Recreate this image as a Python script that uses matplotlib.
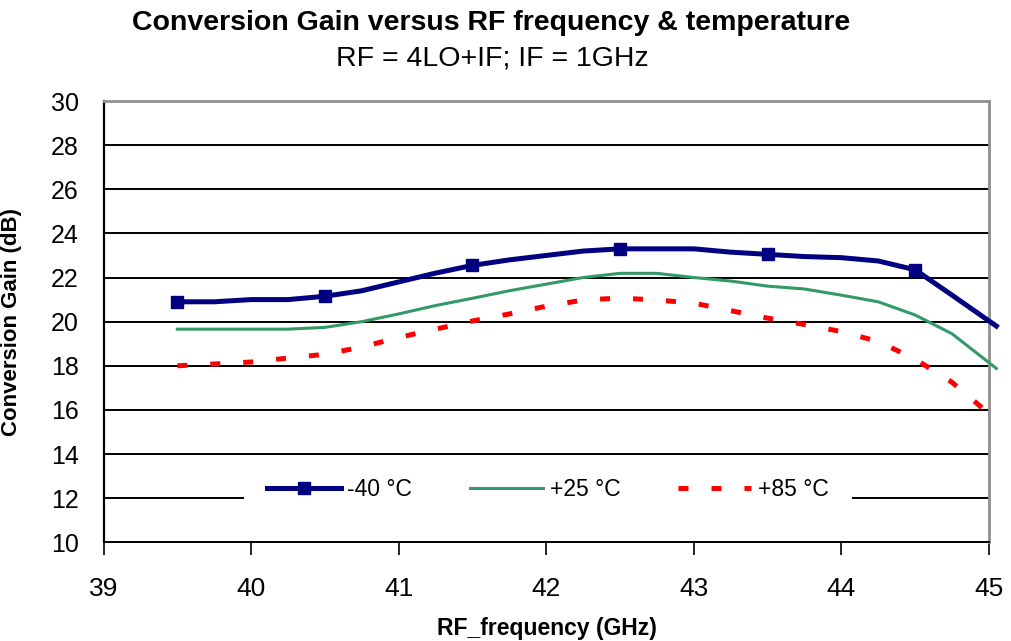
import numpy as np
import matplotlib.pyplot as plt

plt.rcParams['font.family'] = ['Liberation Sans', 'DejaVu Sans']

# RF frequency points (GHz); the last sample sits just past the axis end
freq = [39.5, 39.75, 40.0, 40.25, 40.5, 40.75, 41.0, 41.25, 41.5, 41.75,
        42.0, 42.25, 42.5, 42.75, 43.0, 43.25, 43.5, 43.75, 44.0, 44.25,
        44.5, 44.75, 45.05]

gain_m40 = [20.9, 20.9, 21.0, 21.0, 21.15, 21.4, 21.8, 22.2, 22.55, 22.8,
            23.0, 23.2, 23.3, 23.3, 23.3, 23.15, 23.05, 22.95, 22.9, 22.75,
            22.35, 21.2, 19.8]
gain_p25 = [19.66, 19.66, 19.66, 19.66, 19.74, 20.0, 20.35, 20.73, 21.06, 21.4,
            21.7, 22.0, 22.19, 22.19, 22.0, 21.84, 21.61, 21.48, 21.2, 20.9,
            20.3, 19.45, 17.88]
gain_p85 = [18.0, 18.08, 18.17, 18.35, 18.52, 18.85, 19.28, 19.66, 20.03, 20.35,
            20.7, 20.98, 21.07, 20.98, 20.84, 20.5, 20.16, 19.87, 19.55, 19.1,
            18.3, 17.25, 15.55]

# markers on the -40 °C curve only at the half-GHz points
marker_freq = [39.5, 40.5, 41.5, 42.5, 43.5, 44.5]

x_ticks = [39, 40, 41, 42, 43, 44, 45]
y_ticks = [10, 12, 14, 16, 18, 20, 22, 24, 26, 28, 30]

fig = plt.figure(figsize=(10.11, 6.41), dpi=100)
ax = fig.add_axes([0.1024, 0.154, 0.8758, 0.6884])

marks = [freq.index(f) for f in marker_freq]
ax.plot(freq, gain_m40, color="#000080", lw=3.6, marker="s", ms=8.5,
        markevery=marks, label="-40 °C", clip_on=False, zorder=4)
ax.plot(freq, gain_p25, color="#339966", lw=2.2, label="+25 °C",
        clip_on=False, zorder=3)
ax.plot(freq, gain_p85, color="#FF0000", lw=3.6, ls=(0, (2.0, 4.6)),
        label="+85 °C", clip_on=False, zorder=3)

ax.set_xlim(39, 45)
ax.set_ylim(10, 30)
ax.set_xticks(x_ticks)
ax.set_yticks(y_ticks)
ax.tick_params(axis="x", direction="out", length=9, width=1.2,
               pad=16, labelsize=19)
ax.tick_params(axis="y", length=0, pad=18, labelsize=18)

ax.grid(axis="y", color="black", lw=1.4)
ax.set_axisbelow(True)
ax.spines["left"].set_color("black")
ax.spines["bottom"].set_color("black")
ax.spines["left"].set_linewidth(1.6)
ax.spines["bottom"].set_linewidth(1.4)
ax.spines["top"].set_color("#909090")
ax.spines["right"].set_color("#909090")
ax.spines["top"].set_linewidth(2)
ax.spines["right"].set_linewidth(2)

ax.set_ylabel("Conversion Gain (dB)", fontsize=16, fontweight="bold")
ax.yaxis.set_label_coords(-0.092, 0.5)

fig.text(0.541, 0.02, "RF_frequency (GHz)", ha="center", va="center",
         fontsize=16.5, fontweight="bold")
fig.text(0.486, 0.964, "Conversion Gain versus RF frequency & temperature",
         ha="center", va="center", fontsize=20.5, fontweight="bold")
fig.text(0.487, 0.909, "RF = 4LO+IF; IF = 1GHz", ha="center", va="center",
         fontsize=20.5)

leg = ax.legend(loc="center", bbox_to_anchor=(0.502, 0.12), ncol=3,
                fontsize=16.5, frameon=True, fancybox=False, handlelength=3.2,
                columnspacing=2.5, handletextpad=0.3, borderpad=1.0)
leg.get_frame().set_facecolor("white")
leg.get_frame().set_edgecolor("none")
leg.get_frame().set_alpha(1)

fig.savefig("out.png", dpi=100)
